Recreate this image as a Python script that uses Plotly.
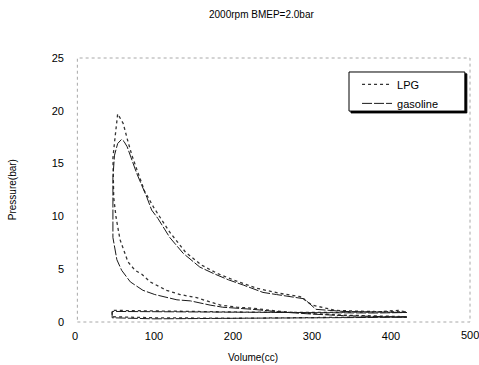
import plotly.graph_objects as go

# ---- data ----
lpg_volume = [420, 380, 340, 300, 260, 225, 205, 184, 154, 133, 116, 95, 85, 76, 67, 57, 52, 49, 48, 48, 50, 52, 54,
              58, 61, 67, 72, 78, 88, 100, 120, 140, 160, 180, 200, 230, 260, 285, 300, 330, 370, 420,
              409, 380, 300, 200, 116, 47,
              47, 100, 200, 300, 420]
lpg_pressure = [0.5, 0.55, 0.65, 0.8, 1.0, 1.3, 1.4, 1.6, 2.3, 2.6, 3.0, 3.8, 4.5, 4.9, 5.7, 7.8, 9.9, 11.8, 13.7, 15.5, 17.0, 18.5, 19.7,
                19.2, 18.8, 17.1, 15.8, 14.5, 12.4, 10.8, 8.5, 6.6, 5.4, 4.6, 4.0, 3.2, 2.7, 2.4, 1.6, 1.1, 1.0, 0.95,
                1.1, 0.95, 0.9, 0.95, 1.05, 1.1,
                0.5, 0.4, 0.35, 0.45, 0.5]

gasoline_volume = [420, 380, 340, 300, 260, 225, 205, 187, 171, 146, 129, 116, 101, 86, 70, 59, 53, 48, 48, 48, 50, 54, 59,
                   62, 66, 72, 78, 91, 97, 105, 120, 137, 158, 175, 194, 213, 238, 255, 275, 290, 305, 340, 380, 420,
                   380, 300, 200, 116, 47,
                   47, 100, 200, 300, 420]
gasoline_pressure = [0.45, 0.5, 0.6, 0.75, 0.95, 1.2, 1.3, 1.4, 1.6, 2.0, 2.1, 2.3, 2.6, 3.0, 3.8, 4.9, 5.9, 8.0, 10.6, 13.7, 15.8, 16.9, 17.3,
                     17.1, 16.6, 15.3, 14.1, 11.8, 10.6, 9.8, 8.0, 6.5, 5.2, 4.6, 4.0, 3.5, 2.8, 2.6, 2.4, 2.2, 1.2, 1.0, 0.95, 0.9,
                     0.85, 0.9, 0.95, 1.0, 1.0,
                     0.4, 0.3, 0.35, 0.4, 0.45]

x_ticks = [0, 100, 200, 300, 400]
x_last_tick = 500
y_ticks = [0, 5, 10, 15, 20, 25]

FONT = "Liberation Sans, Arial, sans-serif"

fig = go.Figure()
fig.add_trace(go.Scatter(x=lpg_volume, y=lpg_pressure, mode="lines", name="LPG",
                         line=dict(color="#333333", width=1.3, dash="dot")))
fig.add_trace(go.Scatter(x=gasoline_volume, y=gasoline_pressure, mode="lines", name="gasoline",
                         line=dict(color="#1a1a1a", width=1.0, dash="10px,2px")))

# legend box with drop shadow
bx0, bx1, by0, by1 = 0.6937, 0.987, 0.799, 0.947
fig.add_shape(type="rect", xref="paper", yref="paper", x0=bx0 + 0.005, x1=bx1 + 0.005, y0=by0 - 0.007, y1=by1 - 0.007,
              line=dict(color="black", width=1), fillcolor="black")
fig.add_shape(type="rect", xref="paper", yref="paper", x0=bx0, x1=bx1, y0=by0, y1=by1,
              line=dict(color="black", width=1), fillcolor="white")
# dotted plot frame
fig.add_shape(type="rect", xref="paper", yref="paper", x0=0.006, x1=1, y0=0, y1=1,
              line=dict(color="#a8a8a8", width=1, dash="dot"), layer="below")

fig.add_annotation(text="2000rpm BMEP=2.0bar", xref="paper", yref="paper", x=0.471, y=1.163,
                   showarrow=False, font=dict(size=10, color="black", family=FONT), xanchor="center", yanchor="middle")
fig.add_annotation(text="Volume(cc)", xref="paper", yref="paper", x=0.45, y=-0.133,
                   showarrow=False, font=dict(size=10, color="black", family=FONT), xanchor="center", yanchor="middle")
fig.add_annotation(text="Pressure(bar)", xref="paper", yref="paper", x=-0.159, y=0.5, textangle=-90,
                   showarrow=False, font=dict(size=10, color="black", family=FONT), xanchor="center", yanchor="middle")
# last x tick label (clipped at the right edge as in the reference)
fig.add_annotation(text=str(x_last_tick), xref="x", yref="paper", x=x_last_tick, y=-0.05,
                   showarrow=False, font=dict(size=11, color="black", family=FONT), xanchor="center", yanchor="middle")

fig.update_layout(
    width=479, height=365,
    margin=dict(l=75, r=9, t=58, b=43),
    paper_bgcolor="white", plot_bgcolor="white",
    font=dict(family=FONT, size=11, color="black"),
    showlegend=True,
    legend=dict(x=0.714, y=0.955, xanchor="left", yanchor="top", bgcolor="rgba(0,0,0,0)",
                borderwidth=0, font=dict(size=11, family=FONT), itemwidth=30, tracegroupgap=0),
    xaxis=dict(range=[0, 500], tickvals=x_ticks, showgrid=False, zeroline=False, showline=False,
               ticks="", ticklabelstandoff=6, tickfont=dict(size=11)),
    yaxis=dict(range=[0, 25], tickvals=y_ticks, showgrid=False, zeroline=False, showline=False,
               ticks="", ticklabelstandoff=10, tickfont=dict(size=11)),
)

fig.write_html("out.html")
